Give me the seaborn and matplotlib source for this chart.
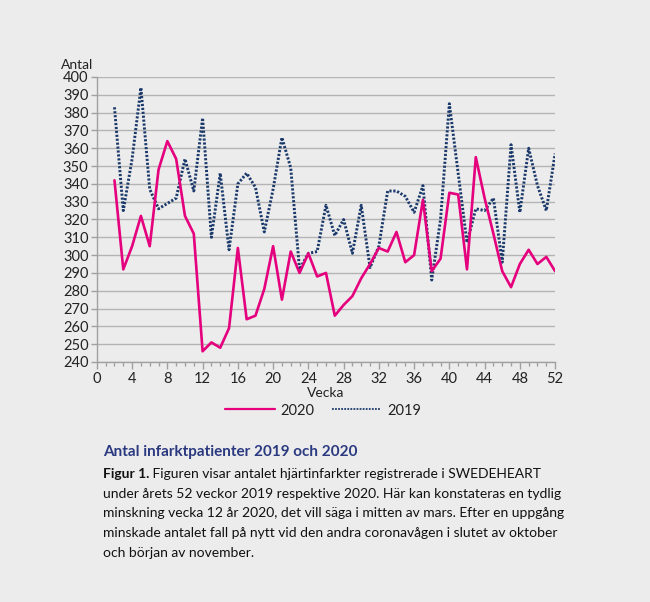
import matplotlib
matplotlib.use("Agg")
import matplotlib.pyplot as plt
import seaborn as sns
import pandas as pd
from matplotlib.ticker import MultipleLocator
from matplotlib.lines import Line2D

weeks = list(range(2, 53))
values_2020 = [342, 292, 305, 322, 305, 348, 364, 354, 322, 312, 246, 251, 248, 259, 304,
               264, 266, 281, 305, 275, 302, 290, 301, 288, 290, 266, 272, 277, 287, 295,
               304, 302, 313, 296, 300, 331, 291, 298, 335, 334, 292, 355, 332, 312, 291,
               282, 295, 303, 295, 299, 291]
values_2019 = [383, 325, 354, 394, 337, 326, 329, 332, 354, 336, 377, 310, 346, 303, 340,
               346, 338, 313, 337, 366, 349, 292, 301, 302, 328, 311, 320, 301, 328, 293,
               305, 336, 336, 333, 324, 339, 286, 320, 385, 346, 307, 326, 325, 332, 296,
               362, 324, 360, 339, 325, 357]
series_names = ["2020", "2019"]
x_label = "Vecka"
y_label = "Antal"
title = "Antal infarktpatienter 2019 och 2020"
caption_bold = "Figur 1."
caption_lines = [
    " Figuren visar antalet hjärtinfarkter registrerade i SWEDEHEART",
    "under årets 52 veckor 2019 respektive 2020. Här kan konstateras en tydlig",
    "minskning vecka 12 år 2020, det vill säga i mitten av mars. Efter en uppgång",
    "minskade antalet fall på nytt vid den andra coronavågen i slutet av oktober",
    "och början av november.",
]

df19 = pd.DataFrame({"Vecka": weeks, "Antal": values_2019})
df20 = pd.DataFrame({"Vecka": weeks, "Antal": values_2020})

BG = "#ececec"
PINK = "#e5007d"
NAVY = "#1b3a6b"

sns.set_theme(style="white")
plt.rcParams["font.family"] = ["Lato", "DejaVu Sans"]

fig = plt.figure(figsize=(6.5, 6.02), dpi=100, facecolor=BG)
ax = fig.add_axes([0.149, 0.3987, 0.705, 0.4734])
ax.set_facecolor(BG)

sns.lineplot(data=df19, x="Vecka", y="Antal", ax=ax, color=NAVY, linewidth=2.1,
             linestyle=(0, (0.75, 0.6)))
sns.lineplot(data=df20, x="Vecka", y="Antal", ax=ax, color=PINK, linewidth=1.9)

ax.set_xlim(0, 52)
ax.set_ylim(240, 400)
ax.xaxis.set_major_locator(MultipleLocator(4))
ax.xaxis.set_minor_locator(MultipleLocator(1))
ax.yaxis.set_major_locator(MultipleLocator(10))
ax.grid(axis="y", color="#b4b4b4", linewidth=1.0)
ax.set_axisbelow(True)
for s in ["top", "right"]:
    ax.spines[s].set_visible(False)
for s in ["left", "bottom"]:
    ax.spines[s].set_color("#a0a0a0")
    ax.spines[s].set_linewidth(1.0)
ax.tick_params(axis="x", which="major", direction="out", length=5, width=1,
               color="#a0a0a0", labelsize=10.5, labelcolor="#222222", bottom=True, pad=2)
ax.tick_params(axis="x", which="minor", direction="out", length=3, width=1,
               color="#a0a0a0", bottom=True)
ax.tick_params(axis="y", which="major", direction="out", length=4, width=1,
               color="#a0a0a0", labelsize=10.5, labelcolor="#222222", left=True, pad=2)

ax.set_xlabel(x_label, fontsize=10, color="#222222", labelpad=1)
ax.set_ylabel("")
ax.text(-0.008, 1.02, y_label, transform=ax.transAxes, ha="right", va="bottom",
        fontsize=10, color="#222222")

handles = [Line2D([], [], color=PINK, linewidth=1.6),
           Line2D([], [], color=NAVY, linewidth=1.3, linestyle=(0, (1.0, 0.7)))]
fig.legend(handles, series_names, loc="center", bbox_to_anchor=(0.497, 0.318),
           ncol=2, frameon=False, fontsize=10.5, handlelength=3.4, columnspacing=1.2,
           handletextpad=0.4, labelcolor="#222222")

fig.text(103 / 650, 1 - 452 / 602, title, fontsize=11, fontweight="bold",
         color="#2b3a80", ha="left", va="center")

y0 = 1 - 474 / 602
dy = 19.7 / 602
t = fig.text(103 / 650, y0, caption_bold, fontsize=10, fontweight="bold",
             color="#111111", ha="left", va="center")
fig.canvas.draw()
bb = t.get_window_extent()
fig.text(bb.x1 / 650, y0, caption_lines[0], fontsize=10, color="#111111",
         ha="left", va="center")
for i, line in enumerate(caption_lines[1:], start=1):
    fig.text(103 / 650, y0 - i * dy, line, fontsize=10, color="#111111",
             ha="left", va="center")

fig.savefig("out.png", dpi=100, facecolor=BG)
